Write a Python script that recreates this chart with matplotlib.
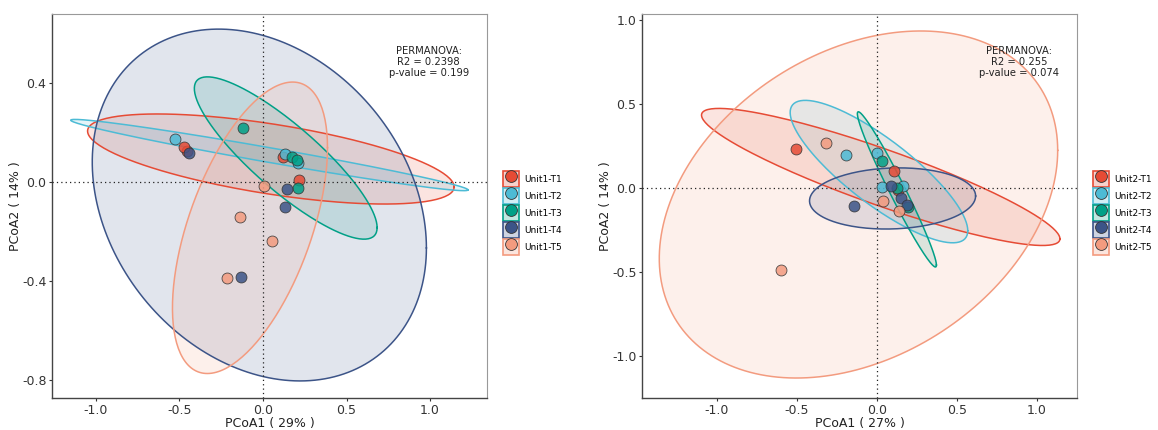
import numpy as np
import matplotlib
matplotlib.use("Agg")
import matplotlib.pyplot as plt
from matplotlib.patches import Patch
from matplotlib.lines import Line2D
from matplotlib.legend_handler import HandlerTuple

# group colours (npg-like)
colors = ["#E64B35", "#4DBBD5", "#00A087", "#3C5488", "#F39B7F"]

# ---- Unit1 ----
u1_groups = ["Unit1-T1", "Unit1-T2", "Unit1-T3", "Unit1-T4", "Unit1-T5"]
u1_x = [
    [-0.455, -0.473, 0.122, 0.216],
    [-0.527, 0.132, 0.211],
    [-0.122, 0.172, 0.202, 0.211],
    [-0.441, 0.142, 0.132, -0.129],
    [0.008, -0.138, 0.056, -0.218],
]
u1_y = [
    [0.125, 0.140, 0.102, 0.008],
    [0.172, 0.113, 0.075],
    [0.217, 0.102, 0.089, -0.026],
    [0.118, -0.030, -0.102, -0.382],
    [-0.016, -0.140, -0.239, -0.389],
]
# ellipse: centre x, centre y, half-extent x, half-extent y, correlation
u1_ell = [
    (0.047, 0.093, 1.097, 0.182, -0.62),
    (0.038, 0.109, 1.189, 0.144, -0.978),
    (0.136, 0.097, 0.547, 0.328, -0.857),
    (-0.022, -0.093, 1.000, 0.711, -0.244),
    (-0.078, -0.185, 0.464, 0.589, 0.55),
]

# ---- Unit2 ----
u2_groups = ["Unit2-T1", "Unit2-T2", "Unit2-T3", "Unit2-T4", "Unit2-T5"]
u2_x = [
    [-0.506, 0.106, 0.130],
    [-0.194, -0.002, 0.029, 0.160],
    [0.029, 0.123, 0.196],
    [-0.142, 0.086, 0.148, 0.185],
    [-0.320, -0.602, 0.035, 0.139],
]
u2_y = [
    [0.234, 0.101, -0.010],
    [0.196, 0.207, 0.008, 0.012],
    [0.161, 0.002, -0.111],
    [-0.105, 0.014, -0.061, -0.101],
    [0.270, -0.489, -0.077, -0.135],
]
u2_ell = [
    (0.023, 0.066, 1.120, 0.408, -0.902),
    (0.012, 0.098, 0.555, 0.424, -0.83),
    (0.124, -0.008, 0.247, 0.462, -0.975),
    (0.097, -0.062, 0.519, 0.182, 0.08),
    (-0.116, -0.098, 1.245, 1.033, 0.312),
]

panels = [
    dict(groups=u1_groups, xs=u1_x, ys=u1_y, ell=u1_ell,
         xlim=(-1.263, 1.341), ylim=(-0.873, 0.679),
         xticks=[-1.0, -0.5, 0.0, 0.5, 1.0], yticks=[-0.8, -0.4, 0.0, 0.4],
         xlabel="PCoA1 ( 29% )", ylabel="PCoA2 ( 14% )",
         stats="PERMANOVA:\nR2 = 0.2398\np-value = 0.199",
         pos=[0.0449, 0.0744, 0.3757, 0.893]),
    dict(groups=u2_groups, xs=u2_x, ys=u2_y, ell=u2_ell,
         xlim=(-1.469, 1.25), ylim=(-1.25, 1.036),
         xticks=[-1.0, -0.5, 0.0, 0.5, 1.0], yticks=[-1.0, -0.5, 0.0, 0.5, 1.0],
         xlabel="PCoA1 ( 27% )", ylabel="PCoA2 ( 14% )",
         stats="PERMANOVA:\nR2 = 0.255\np-value = 0.074",
         pos=[0.5544, 0.0744, 0.3757, 0.893]),
]


def ellipse_xy(cx, cy, rx, ry, rho, n=200):
    cov = np.array([[rx * rx, rho * rx * ry], [rho * rx * ry, ry * ry]])
    L = np.linalg.cholesky(cov)
    t = np.linspace(0, 2 * np.pi, n)
    pts = L @ np.vstack([np.cos(t), np.sin(t)])
    return pts[0] + cx, pts[1] + cy


fig = plt.figure(figsize=(11.58, 4.3), dpi=100)

for p in panels:
    ax = fig.add_axes(p["pos"])
    for i, e in enumerate(p["ell"]):
        ex, ey = ellipse_xy(*e)
        ax.fill(ex, ey, facecolor=colors[i], alpha=0.15, edgecolor="none", zorder=1)
        ax.plot(ex, ey, color=colors[i], lw=1.1, zorder=2)
    ax.axhline(0, color="#222222", ls=(0, (1, 2.5)), lw=0.9, zorder=3)
    ax.axvline(0, color="#222222", ls=(0, (1, 2.5)), lw=0.9, zorder=3)
    for i in range(len(p["groups"])):
        ax.scatter(p["xs"][i], p["ys"][i], s=62, color=colors[i], alpha=0.85,
                   edgecolors="#333333", linewidths=0.6, zorder=4)
    ax.set_xlim(p["xlim"])
    ax.set_ylim(p["ylim"])
    ax.set_xticks(p["xticks"])
    ax.set_yticks(p["yticks"])
    ax.set_xticklabels([f"{v:.1f}" for v in p["xticks"]])
    ax.set_yticklabels([f"{v:.1f}" for v in p["yticks"]])
    ax.tick_params(labelsize=9, colors="#333333", length=2.5, width=0.8, pad=1.5)
    ax.set_xlabel(p["xlabel"], fontsize=9, color="#222222", labelpad=0)
    ax.set_ylabel(p["ylabel"], fontsize=9, color="#222222", labelpad=0)
    for side in ["left", "bottom"]:
        ax.spines[side].set_color("#444444")
        ax.spines[side].set_linewidth(1.0)
    for side in ["top", "right"]:
        ax.spines[side].set_color("#999999")
        ax.spines[side].set_linewidth(0.8)
    ax.text(0.866, 0.918, p["stats"], transform=ax.transAxes, ha="center", va="top",
            fontsize=7.2, color="#222222", linespacing=1.15)

    handles = []
    for i in range(len(p["groups"])):
        box = Patch(facecolor=colors[i], alpha=0.25, edgecolor="none")
        edge = Patch(facecolor="none", edgecolor=colors[i], lw=1.2)
        dot = Line2D([], [], marker="o", ls="", ms=8.5, markerfacecolor=colors[i],
                     markeredgecolor="#333333", markeredgewidth=0.6)
        handles.append((box, edge, dot))
    ax.legend(handles, p["groups"], loc="center left", bbox_to_anchor=(1.0285, 0.482),
              frameon=False, fontsize=6.5, handlelength=1.77, handleheight=2.27,
              labelspacing=0.16, handletextpad=0.6, borderaxespad=0,
              handler_map={tuple: HandlerTuple(ndivide=1, pad=0)})

fig.savefig("out.png", dpi=100)
